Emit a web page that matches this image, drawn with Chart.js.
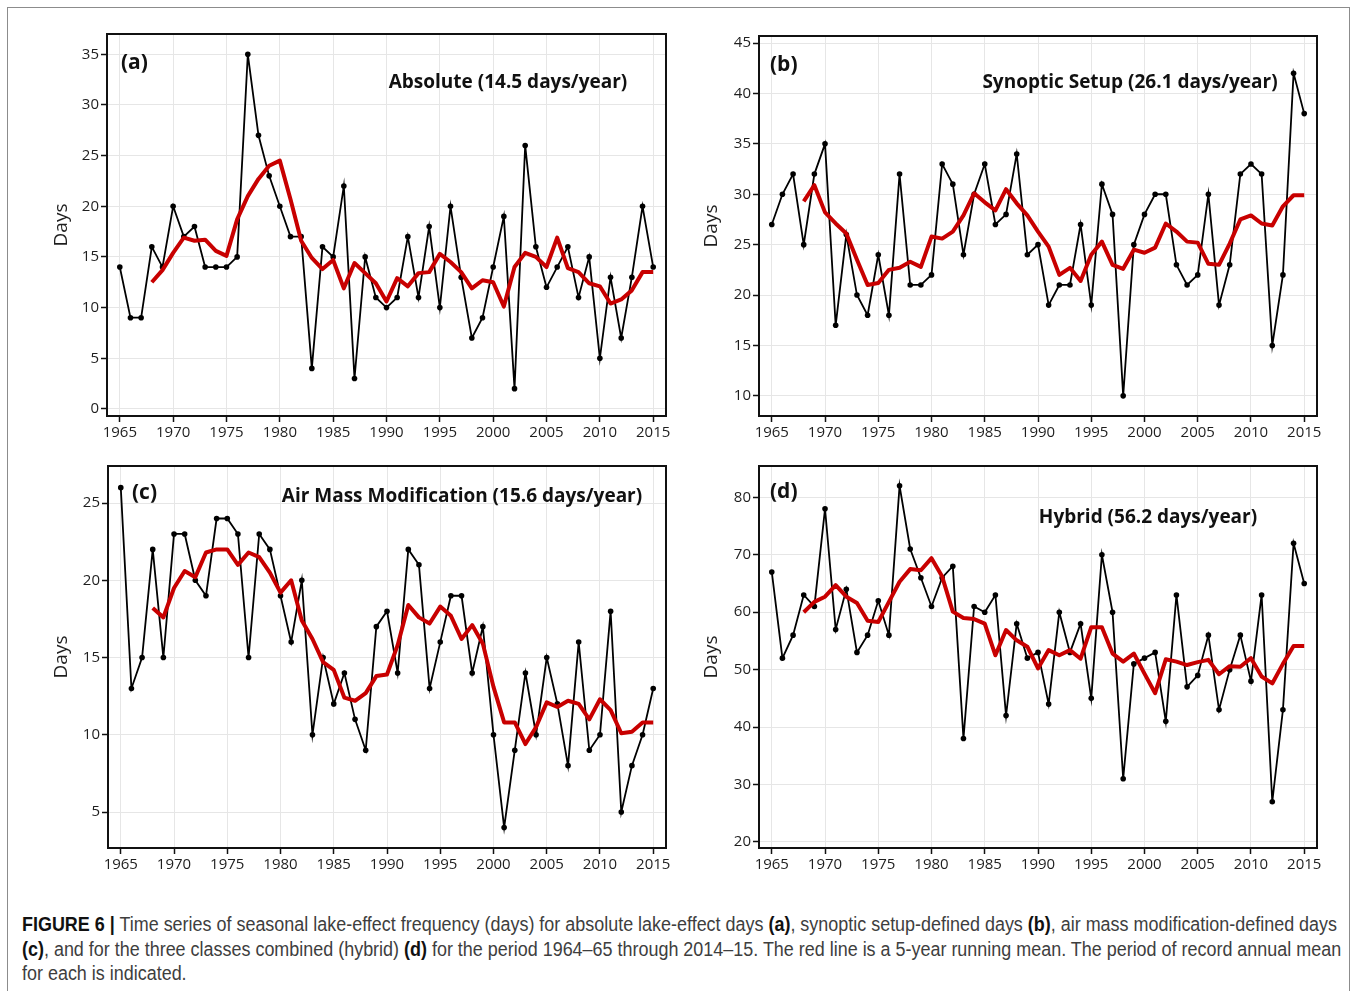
<!DOCTYPE html>
<html>
<head>
<meta charset="utf-8">
<title>Lake-effect frequency</title>
<script src="https://cdn.jsdelivr.net/npm/chart.js@4.4.1/dist/chart.umd.min.js"></script>
<style>
  body { margin: 0; background: #fff; width: 1357px; height: 991px; position: relative; overflow: hidden; }
  #frame { position: absolute; left: 7px; top: 7px; width: 1341px; height: 1000px; border: 1px solid #8c8c8c; }
  canvas { position: absolute; }
  #caption {
    position: absolute; left: 22px; top: 912px;
    font-family: "Liberation Sans", Arial, sans-serif;
    font-size: 20px; line-height: 24.5px; color: #3e3e3e; white-space: nowrap;
  }
  #caption span { display: block; transform-origin: 0 50%; }
  #caption b { color: #111; }
</style>
</head>
<body>
<div id="frame"></div>
<canvas id="chartA" width="660" height="450" style="left:20px;top:14px"></canvas>
<canvas id="chartB" width="660" height="450" style="left:672px;top:14px"></canvas>
<canvas id="chartC" width="660" height="450" style="left:20px;top:446px"></canvas>
<canvas id="chartD" width="660" height="450" style="left:672px;top:446px"></canvas>
<div id="caption">
  <span><b>FIGURE 6 |</b> Time series of seasonal lake-effect frequency (days) for absolute lake-effect days <b>(a)</b>, synoptic setup-defined days <b>(b)</b>, air mass modification-defined days</span>
  <span><b>(c)</b>, and for the three classes combined (hybrid) <b>(d)</b> for the period 1964–65 through 2014–15. The red line is a 5-year running mean. The period of record annual mean</span>
  <span>for each is indicated.</span>
</div>
<script>
// seasons (end year) and the years carrying the 5-year running mean
const years = [1965, 1966, 1967, 1968, 1969, 1970, 1971, 1972, 1973, 1974,
  1975, 1976, 1977, 1978, 1979, 1980, 1981, 1982, 1983, 1984,
  1985, 1986, 1987, 1988, 1989, 1990, 1991, 1992, 1993, 1994,
  1995, 1996, 1997, 1998, 1999, 2000, 2001, 2002, 2003, 2004,
  2005, 2006, 2007, 2008, 2009, 2010, 2011, 2012, 2013, 2014, 2015];
const meanYears = [1968, 1969, 1970, 1971, 1972, 1973, 1974, 1975, 1976, 1977,
  1978, 1979, 1980, 1981, 1982, 1983, 1984, 1985, 1986, 1987,
  1988, 1989, 1990, 1991, 1992, 1993, 1994, 1995, 1996, 1997,
  1998, 1999, 2000, 2001, 2002, 2003, 2004, 2005, 2006, 2007,
  2008, 2009, 2010, 2011, 2012, 2013, 2014, 2015];
const xTicks = [1965, 1970, 1975, 1980, 1985, 1990, 1995, 2000, 2005, 2010, 2015];

// (a) absolute
const absoluteDays = [14, 9, 9, 16, 14, 20, 17, 18, 14, 14,
  14, 15, 35, 27, 23, 20, 17, 17, 4, 16,
  15, 22, 3, 15, 11, 10, 11, 17, 11, 18,
  10, 20, 13, 7, 9, 14, 19, 2, 26, 16,
  12, 14, 16, 11, 15, 5, 13, 7, 13, 20, 14];
const absoluteMean = [12.5, 13.7, 15.4, 16.9, 16.6, 16.7, 15.6, 15.1, 18.7, 21.0,
  22.7, 24.0, 24.5, 20.7, 16.6, 14.9, 13.8, 14.7, 11.9, 14.4,
  13.4, 12.4, 10.6, 12.9, 12.1, 13.4, 13.5, 15.3, 14.5, 13.5,
  11.9, 12.7, 12.5, 10.1, 14.0, 15.4, 15.0, 14.0, 16.9, 13.9,
  13.5, 12.4, 12.1, 10.4, 10.8, 11.7, 13.5, 13.5];
const absoluteTicks = [0, 5, 10, 15, 20, 25, 30, 35];

// (b) synoptic setup
const synopticDays = [27, 30, 32, 25, 32, 35, 17, 26, 20, 18,
  24, 18, 32, 21, 21, 22, 33, 31, 24, 30,
  33, 27, 28, 34, 24, 25, 19, 21, 21, 27,
  19, 31, 28, 10, 25, 28, 30, 30, 23, 21,
  22, 30, 19, 23, 32, 33, 32, 15, 22, 42, 38];
const synopticMean = [29.3, 30.9, 28.2, 27.1, 26.1, 23.5, 21.0, 21.2, 22.5, 22.7,
  23.3, 22.8, 25.8, 25.6, 26.3, 27.9, 30.1, 29.2, 28.4, 30.5,
  29.1, 27.9, 26.3, 24.8, 22.0, 22.7, 21.4, 24.0, 25.3, 23.0,
  22.6, 24.5, 24.2, 24.7, 27.1, 26.3, 25.3, 25.2, 23.1, 23.0,
  25.1, 27.5, 27.9, 27.1, 26.9, 28.8, 29.9, 29.9];
const synopticTicks = [10, 15, 20, 25, 30, 35, 40, 45];

// (c) air mass modification
const airMassDays = [26, 13, 15, 22, 15, 23, 23, 20, 19, 24,
  24, 23, 15, 23, 22, 19, 16, 20, 10, 15,
  12, 14, 11, 9, 17, 18, 14, 22, 21, 13,
  16, 19, 19, 14, 17, 10, 4, 9, 14, 10,
  15, 12, 8, 16, 9, 10, 18, 5, 8, 10, 13];
const airMassMean = [18.2, 17.6, 19.5, 20.6, 20.2, 21.8, 22.0, 22.0, 21.0, 21.8,
  21.5, 20.5, 19.2, 20.0, 17.4, 16.2, 14.7, 14.2, 12.4, 12.2,
  12.7, 13.8, 13.9, 15.8, 18.4, 17.6, 17.2, 18.3, 17.7, 16.2,
  17.1, 15.9, 13.1, 10.8, 10.8, 9.4, 10.5, 12.1, 11.8, 12.2,
  12.0, 11.0, 12.3, 11.6, 10.1, 10.2, 10.8, 10.8];
const airMassTicks = [5, 10, 15, 20, 25];

// (d) hybrid (all three classes)
const hybridDays = [67, 52, 56, 63, 61, 78, 57, 64, 53, 56,
  62, 56, 82, 71, 66, 61, 66, 68, 38, 61,
  60, 63, 42, 58, 52, 53, 44, 60, 53, 58,
  45, 70, 60, 31, 51, 52, 53, 41, 63, 47,
  49, 56, 43, 50, 56, 48, 63, 27, 43, 72, 65];
const hybridMean = [60.0, 61.8, 62.7, 64.7, 62.7, 61.6, 58.5, 58.3, 61.8, 65.3,
  67.5, 67.3, 69.4, 66.2, 60.1, 59.0, 58.8, 58.0, 52.5, 56.9,
  55.1, 54.0, 50.2, 53.4, 52.5, 53.4, 51.9, 57.4, 57.4, 52.8,
  51.4, 52.8, 49.3, 45.9, 51.8, 51.4, 50.8, 51.3, 51.7, 49.2,
  50.6, 50.5, 52.0, 48.8, 47.6, 51.0, 54.1, 54.1];
const hybridTicks = [20, 30, 40, 50, 60, 70, 80];

const FONT = '"Open Sans", "DejaVu Sans", sans-serif';

// caption is set in a condensed face in the original: squeeze the lines to the same width
const capLines = document.querySelectorAll("#caption span");
const squeeze = 1319 / capLines[0].scrollWidth;
capLines.forEach(s => { s.style.transform = "scaleX(" + squeeze + ")"; });

// text + frame drawn on top of the plot area
const panelText = {
  id: "panelText",
  afterDraw(chart, args, opts) {
    const { ctx, chartArea: a } = chart;
    ctx.save();
    ctx.lineWidth = 2;
    ctx.strokeStyle = "#111";
    ctx.strokeRect(a.left, a.top, a.right - a.left, a.bottom - a.top);
    ctx.fillStyle = "#111";
    ctx.textBaseline = "middle";
    ctx.textAlign = "left";
    ctx.font = "bold 21px " + FONT;
    ctx.fillText(opts.label, a.left + opts.labelAt[0], a.top + opts.labelAt[1]);
    ctx.textAlign = "center";
    ctx.font = "bold 19px " + FONT;
    ctx.fillText(opts.title, a.left + opts.titleAt[0], a.top + opts.titleAt[1]);
    ctx.restore();
  }
};

const panels = [
  { canvas: "chartA", label: "(a)", title: "Absolute (14.5 days/year)",
    days: absoluteDays, mean: absoluteMean, yTicks: absoluteTicks, yMin: -0.7, yMax: 37.0,
    box: { left: 20, top: 14 }, area: { l: 107, t: 34, r: 666, b: 416 },
    labelAt: [14, 29], titleAt: [401, 49], daysX: 62 },
  { canvas: "chartB", label: "(b)", title: "Synoptic Setup (26.1 days/year)",
    days: synopticDays, mean: synopticMean, yTicks: synopticTicks, yMin: 8.0, yMax: 45.7,
    box: { left: 672, top: 14 }, area: { l: 759, t: 36, r: 1317, b: 416 },
    labelAt: [11, 29], titleAt: [371, 47], daysX: 712 },
  { canvas: "chartC", label: "(c)", title: "Air Mass Modification (15.6 days/year)",
    days: airMassDays, mean: airMassMean, yTicks: airMassTicks, yMin: 2.67, yMax: 27.4,
    box: { left: 20, top: 446 }, area: { l: 108, t: 466, r: 666, b: 848 },
    labelAt: [24, 27], titleAt: [354, 31], daysX: 62 },
  { canvas: "chartD", label: "(d)", title: "Hybrid (56.2 days/year)",
    days: hybridDays, mean: hybridMean, yTicks: hybridTicks, yMin: 18.95, yMax: 85.45,
    box: { left: 672, top: 446 }, area: { l: 759, t: 466, r: 1317, b: 848 },
    labelAt: [11, 26], titleAt: [389, 52], daysX: 712 }
];

const W = 660, H = 450;

panels.forEach(p => {
  const yWidth = p.area.l - p.box.left;
  const xHeight = p.box.top + H - p.area.b;
  const tickFont = { family: FONT, size: 15 };

  new Chart(document.getElementById(p.canvas), {
    type: "line",
    data: {
      datasets: [
        {
          data: meanYears.map((yr, i) => ({ x: yr, y: p.mean[i] })),
          borderColor: "#c80000", borderWidth: 4, pointRadius: 0,
          borderJoinStyle: "round", tension: 0
        },
        {
          data: years.map((yr, i) => ({ x: yr, y: p.days[i] })),
          borderColor: "#000", borderWidth: 1.8, pointRadius: 2.8,
          pointBackgroundColor: "#000", pointBorderWidth: 0, tension: 0
        }
      ]
    },
    options: {
      responsive: false,
      animation: false,
      devicePixelRatio: 1,
      layout: { padding: { top: p.area.t - p.box.top, right: p.box.left + W - p.area.r, left: 0, bottom: 0 } },
      plugins: {
        legend: { display: false },
        tooltip: { enabled: false },
        panelText: { label: p.label, title: p.title, labelAt: p.labelAt, titleAt: p.titleAt }
      },
      scales: {
        x: {
          type: "linear", min: 1963.8, max: 2016.2,
          afterBuildTicks: s => { s.ticks = xTicks.map(v => ({ value: v })); },
          afterFit: s => { s.height = xHeight; },
          grid: { color: "#e6e6e6", lineWidth: 1, tickColor: "#111", tickLength: 6, tickWidth: 1.5 },
          border: { display: false },
          ticks: { font: tickFont, color: "#1e1e1e", padding: 2, maxRotation: 0, autoSkip: false, callback: v => String(v) }
        },
        y: {
          min: p.yMin, max: p.yMax,
          afterBuildTicks: s => { s.ticks = p.yTicks.map(v => ({ value: v })); },
          afterFit: s => { s.width = yWidth; },
          grid: { color: "#e6e6e6", lineWidth: 1, tickColor: "#111", tickLength: 6, tickWidth: 1.5 },
          border: { display: false },
          ticks: { font: tickFont, color: "#1e1e1e", padding: 2, callback: v => String(v) },
          title: { display: true, text: "Days", color: "#1e1e1e", font: { family: FONT, size: 19 },
                   padding: { top: p.daysX - p.box.left - 11.4, bottom: 0 } }
        }
      }
    },
    plugins: [panelText]
  });
});
</script>
</body>
</html>
